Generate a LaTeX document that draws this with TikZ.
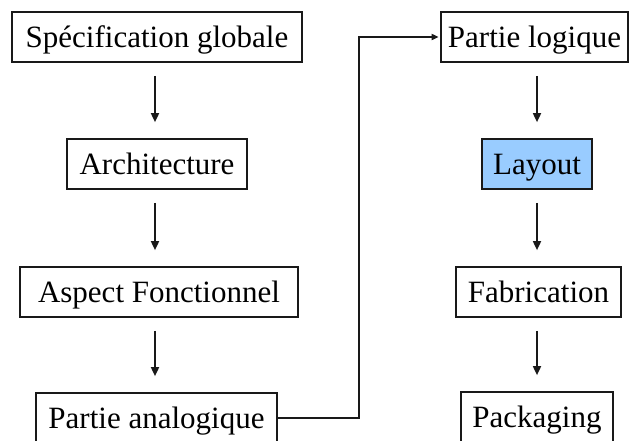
\documentclass[tikz,border=0pt]{standalone}
\usepackage{fontspec}
\setmainfont{Liberation Serif}
\newfontfamily\stagefont{Liberation Serif}
\usetikzlibrary{arrows.meta,calc}
\definecolor{layoutblue}{RGB}{153,204,255}
\definecolor{edgegray}{RGB}{25,25,25}
\begin{document}
\begin{tikzpicture}[x=1pt,y=-1pt,
  stage/.style={draw=edgegray, line width=1.7pt, fill=white, minimum height=50pt,
    inner sep=0pt, text height=25pt, text depth=5pt,
    font=\stagefont\fontsize{31}{36}\selectfont},
  flow/.style={draw=edgegray, line width=1.7pt, -{Triangle[length=9pt,width=8pt]},
    shorten <=13pt, shorten >=16pt},
  link/.style={draw=edgegray, line width=1.7pt, -{Triangle[length=7pt,width=6pt]},
    shorten >=1.5pt},
]
\useasboundingbox (0,0) rectangle (629,440);
\clip (0,0) rectangle (629,440);
\fill[white] (0,0) rectangle (629,440);

% left column: design stages
\node[stage, minimum width=290pt] (spec) at (157,37) {Spécification globale};
\node[stage, minimum width=180pt] (arch) at (157,164) {Architecture};
\node[stage, minimum width=278pt] (asp)  at (159,292) {Aspect Fonctionnel};
\node[stage, minimum width=241pt] (ana)  at (156.5,418) {Partie analogique};

% right column: realisation stages
\node[stage, minimum width=187pt] (logi) at (534.5,37) {Partie logique};
\node[stage, minimum width=110pt, fill=layoutblue] (lay) at (537,164) {Layout};
\node[stage, minimum width=165pt] (fab)  at (538.5,292) {Fabrication};
\node[stage, minimum width=152pt] (pack) at (537,417) {Packaging};

% vertical flow arrows
\draw[flow] ($(spec.south)+(-2,0)$) -- ($(spec.south |- arch.north)+(-2,0)$);
\draw[flow] ($(arch.south)+(-2,0)$) -- ($(arch.south |- asp.north)+(-2,0)$);
\draw[flow] ($(ana.north |- asp.south)+(-1.5,0)$) -- ($(ana.north)+(-1.5,0)$);
\draw[flow] (lay.north |- logi.south) -- (lay.north);
\draw[flow] (lay.south) -- (lay.south |- fab.north);
\draw[flow] (pack.north |- fab.south) -- (pack.north);

% link from the analog part to the logic part
\coordinate (turn) at (359,418);
\draw[link] (ana.east) -- (turn) |- (logi.west);
\end{tikzpicture}
\end{document}
